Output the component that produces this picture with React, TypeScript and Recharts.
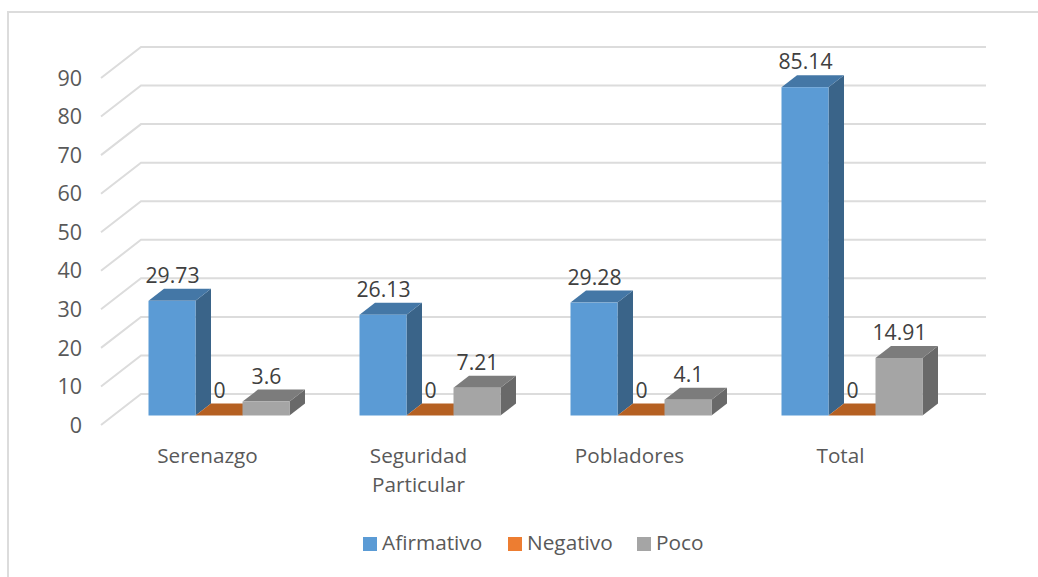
import React from 'react';
import { BarChart, Bar, XAxis, YAxis, CartesianGrid, Legend, LabelList } from 'recharts';

const categories = ['Serenazgo', 'Seguridad Particular', 'Pobladores', 'Total'];
const afirmativo = [29.73, 26.13, 29.28, 85.14];
const negativo = [0, 0, 0, 0];
const poco = [3.6, 7.21, 4.1, 14.91];
const yTicks = [0, 10, 20, 30, 40, 50, 60, 70, 80, 90];

const data = categories.map((name, i) => ({
  name,
  Afirmativo: afirmativo[i],
  Negativo: negativo[i],
  Poco: poco[i],
}));

const FONT = '"Open Sans", sans-serif';

// fake 3D: the floor sits a bit inside the wall plane
const WALL_DX = 40;
const WALL_DY = -31;
const BAR_SHIFT_X = 12.5;
const BAR_SHIFT_Y = -9.5;
const DEPTH_X = 15.5;
const DEPTH_Y = -12;

const faces: Record<string, { front: string; top: string; side: string }> = {
  Afirmativo: { front: '#5B9BD5', top: '#4477A6', side: '#3A6489' },
  Negativo: { front: '#ED7D31', top: '#B56022', side: '#9A5220' },
  Poco: { front: '#A5A5A5', top: '#7C7C7C', side: '#696969' },
};

function Box3D(props: any) {
  const { x, y, width, height, dataKey } = props;
  const c = faces[dataKey];
  const l = x + BAR_SHIFT_X;
  const r = l + width;
  const t = y + BAR_SHIFT_Y;
  const b = t + height;
  return (
    <g>
      <polygon points={`${r},${t} ${r + DEPTH_X},${t + DEPTH_Y} ${r + DEPTH_X},${b + DEPTH_Y} ${r},${b}`} fill={c.side} />
      <polygon points={`${l},${t} ${l + DEPTH_X},${t + DEPTH_Y} ${r + DEPTH_X},${t + DEPTH_Y} ${r},${t}`} fill={c.top} />
      <rect x={l} y={t} width={width} height={height} fill={c.front} />
    </g>
  );
}

function ValueLabel(props: any) {
  const { x, y, width, value } = props;
  return (
    <text
      x={x + BAR_SHIFT_X + width / 2 + 0.5}
      y={y + BAR_SHIFT_Y - 18}
      textAnchor="middle"
      fontFamily={FONT}
      fontSize={21.2}
      fill="#404040"
    >
      {value}
    </text>
  );
}

function GridLine(props: any) {
  const { x1, x2, y1 } = props;
  return (
    <polyline
      points={`${x1},${y1} ${x1 + WALL_DX},${y1 + WALL_DY} ${x2 + WALL_DX + 1},${y1 + WALL_DY}`}
      fill="none"
      stroke="#DCDCDC"
      strokeWidth={2}
    />
  );
}

function CategoryTick(props: any) {
  const { x, payload } = props;
  const lines = payload.value.split(' ');
  return (
    <text textAnchor="middle" fontFamily={FONT} fontSize={20.7} fill="#595959">
      {lines.map((line: string, i: number) => (
        <tspan key={line} x={x + 1} y={463 + i * 29}>
          {line}
        </tspan>
      ))}
    </text>
  );
}

function LegendBox() {
  const items = [
    { name: 'Afirmativo', color: faces.Afirmativo.front, left: 363 },
    { name: 'Negativo', color: faces.Negativo.front, left: 508 },
    { name: 'Poco', color: faces.Poco.front, left: 637 },
  ];
  return (
    <svg width={1038} height={47} style={{ display: 'block' }}>
      {items.map((it) => (
        <g key={it.name}>
          <rect x={it.left} y={17} width={14} height={14} fill={it.color} />
          <text x={it.left + 19} y={30} fontFamily={FONT} fontSize={20.8} fill="#595959">
            {it.name}
          </text>
        </g>
      ))}
    </svg>
  );
}

export default function App() {
  return (
    <div style={{ position: 'absolute', left: 0, top: 0, width: 1038, height: 577, background: '#fff', overflow: 'hidden' }}>
      <div style={{ position: 'absolute', left: 7, top: 11, width: 1040, height: 600, border: '2px solid #DCDCDC' }} />
      <BarChart
        width={1038}
        height={577}
        data={data}
        margin={{ top: 78, right: 93, bottom: 112, left: 61 }}
        barCategoryGap={35}
        barGap={0}
        style={{ position: 'absolute', left: 0, top: 0 }}
      >
        <CartesianGrid vertical={false} horizontal={(p: any) => <GridLine key={p.y1} {...p} />} />
        <XAxis dataKey="name" height={40} axisLine={false} tickLine={false} interval={0} tick={<CategoryTick />} />
        <YAxis
          width={40}
          domain={[0, 90]}
          ticks={yTicks}
          interval={0}
          axisLine={false}
          tickLine={false}
          tickMargin={13}
          tick={{ fontFamily: FONT, fontSize: 21.5, fill: '#595959' }}
        />
        <Legend
          layout="horizontal"
          verticalAlign="middle"
          align="center"
          content={<LegendBox />}
          wrapperStyle={{ left: 0, top: 520, width: 1038, margin: 0 }}
        />
        {Object.keys(faces).map((key) => (
          <Bar key={key} dataKey={key} isAnimationActive={false} shape={<Box3D dataKey={key} />}>
            <LabelList dataKey={key} content={<ValueLabel />} />
          </Bar>
        ))}
      </BarChart>
    </div>
  );
}
